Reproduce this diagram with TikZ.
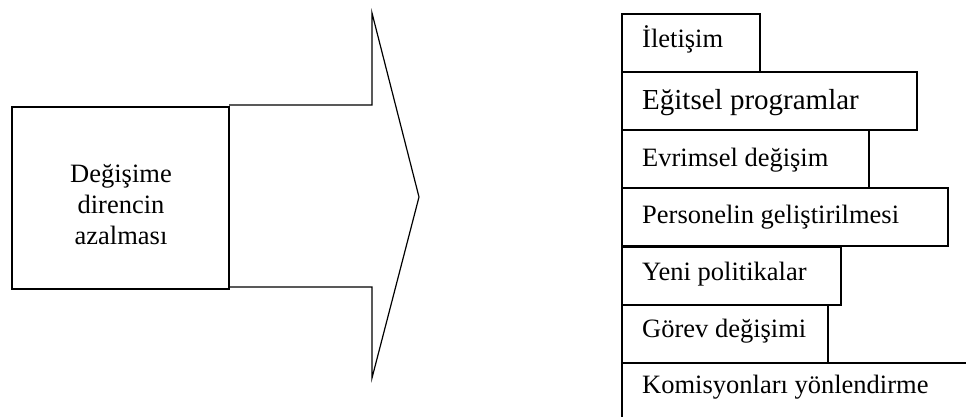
\documentclass[tikz,border=0pt]{standalone}
\usepackage{fontspec}
\setmainfont{Liberation Serif}
\begin{document}
\begin{tikzpicture}[x=1pt,y=-1pt,
  boxline/.style={draw=black,line width=1.6pt},
  itembox/.style={boxline,anchor=north west,minimum height=58pt,inner sep=0pt},
  itemtext/.style={anchor=base west,inner sep=0pt,font=\fontsize{26.5}{30}\selectfont},
  bigarrow/.style={draw=black,line width=1.2pt,line join=miter}]
\useasboundingbox (0,0) rectangle (966,417);
\clip (0,0) rectangle (966,417);

% block arrow pointing right
\coordinate (s1) at (229,105);
\coordinate (s2) at (372,105);
\coordinate (h1) at (372,13);
\coordinate (tip) at (419,197);
\coordinate (h2) at (372,378);
\coordinate (s3) at (372,287);
\coordinate (s4) at (229,287);
\draw[bigarrow] (s1) -- (s2) -- (h1) -- (tip) -- (h2) -- (s3) -- (s4);

% source box
\node[boxline,fill=white,minimum width=217pt,minimum height=182pt,inner sep=0pt] (src) at (120.5,198) {};
\node[align=center,inner sep=0pt,font=\fontsize{26.5}{31}\selectfont] (srctext) at (121,205)
  {Değişime\\direncin\\azalması};

% stacked list of measures
\node[itembox,minimum width=138pt] (b1) at (621,13) {};
\node[itembox,minimum width=295pt] (b2) at (621,71) {};
\node[itembox,minimum width=247pt] (b3) at (621,129) {};
\node[itembox,minimum width=326pt] (b4) at (621,187) {};
\node[itembox,minimum width=219pt] (b5) at (621,246) {};
\node[itembox,minimum width=206pt] (b6) at (621,304) {};
\node[itembox,minimum width=400pt,minimum height=80pt] (b7) at (621,362) {};

\node[itemtext] (t1) at ([shift={(21,35)}]b1.north west) {İletişim};
\node[itemtext,font=\fontsize{29}{32}\selectfont] (t2) at ([shift={(21,39)}]b2.north west) {Eğitsel programlar};
\node[itemtext] (t3) at ([shift={(21,37)}]b3.north west) {Evrimsel değişim};
\node[itemtext] (t4) at ([shift={(21,36)}]b4.north west) {Personelin geliştirilmesi};
\node[itemtext] (t5) at ([shift={(21,34)}]b5.north west) {Yeni politikalar};
\node[itemtext] (t6) at ([shift={(21,33)}]b6.north west) {Görev değişimi};
\node[itemtext] (t7) at ([shift={(21,31)}]b7.north west) {Komisyonları yönlendirme};
\end{tikzpicture}
\end{document}
